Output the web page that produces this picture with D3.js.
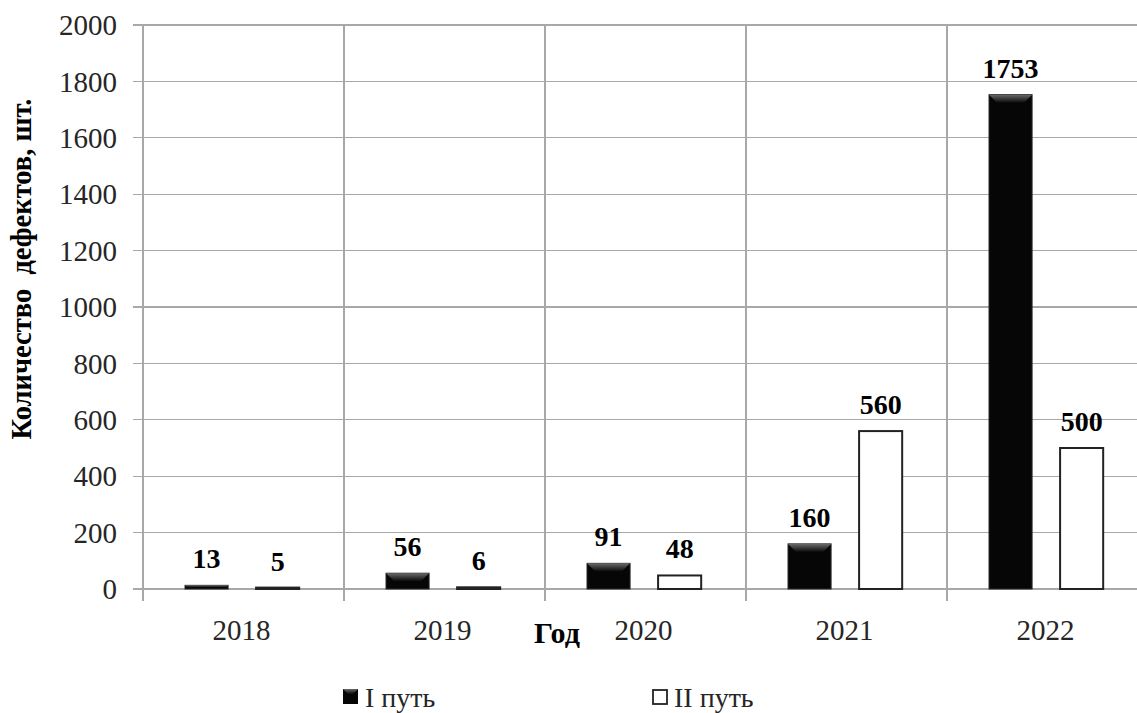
<!DOCTYPE html>
<html><head><meta charset="utf-8">
<script src="https://cdn.jsdelivr.net/npm/d3@7/dist/d3.min.js"></script>
<style>body{margin:0;background:#fff;}svg{display:block;}</style>
</head><body>
<svg id="c" width="1137" height="713"></svg>
<script>
const years = ["2018","2019","2020","2021","2022"];
const seriesNames = ["I путь","II путь"];
const path1 = [13,56,91,160,1753];
const path2 = [5,6,48,560,500];
const yTicks = [0,200,400,600,800,1000,1200,1400,1600,1800,2000];
const yTitle = "Количество  дефектов, шт.";
const xTitle = "Год";

const FF = "'Liberation Serif','Times New Roman',Times,'DejaVu Serif',serif";
const svg = d3.select("#c");
const L = 143, T = 25, B = 589, W = 201;
const x = d3.scaleBand().domain(years).range([L, L + W*years.length]).padding(0);
const x1 = d3.scaleBand().domain([0,1]).range([x.bandwidth()*0.209, x.bandwidth()*0.777]).paddingInner(0.394).paddingOuter(0);
const y = d3.scaleLinear().domain([0,2000]).range([B, T]);

const defs = svg.append("defs");
const g1 = defs.append("linearGradient").attr("id","bev").attr("x1",0).attr("y1",0).attr("x2",0).attr("y2",1);
g1.append("stop").attr("offset","0%").attr("stop-color","#6a6a6a");
g1.append("stop").attr("offset","100%").attr("stop-color","#0a0a0a");

const grid = "#a8a8a8";
svg.append("g").selectAll("line").data(yTicks).join("line")
  .attr("x1", L-10).attr("x2", 1137).attr("y1", d=>y(d)).attr("y2", d=>y(d))
  .attr("stroke", grid).attr("stroke-width", 1.2).attr("shape-rendering","crispEdges");
const bounds = years.map(d=>x(d));
svg.append("g").selectAll("line").data(bounds).join("line")
  .attr("x1", d=>d).attr("x2", d=>d).attr("y1", T).attr("y2", B+12)
  .attr("stroke", grid).attr("stroke-width", 1.2).attr("shape-rendering","crispEdges");

svg.append("g").selectAll("text").data(yTicks).join("text")
  .attr("x", 117).attr("y", d=>y(d)).attr("dy","0.35em").attr("text-anchor","end")
  .attr("font-family",FF).attr("font-size", 29).attr("fill","#262626")
  .text(d=>d);

svg.append("g").selectAll("text").data(years).join("text")
  .attr("x", d=>x(d)+x.bandwidth()/2 - 2).attr("y", 630).attr("dy","0.35em").attr("text-anchor","middle")
  .attr("font-family",FF).attr("font-size", 29).attr("fill","#262626")
  .text(d=>d);

const data = [];
years.forEach((yr,i)=>{
  data.push({yr, s:0, v:path1[i]});
  data.push({yr, s:1, v:path2[i]});
});
const bw = x1.bandwidth();
const bars = svg.append("g");
data.forEach(d=>{
  const bx = x(d.yr) + x1(d.s);
  const by = y(d.v);
  const h = B - by;
  if (d.s === 0) {
    bars.append("rect").attr("x", bx).attr("y", by).attr("width", bw).attr("height", h)
      .attr("fill", "#060606").attr("stroke","#2a2a2a").attr("stroke-width",1);
    const bh = Math.min(8, h/2);
    bars.append("path")
      .attr("d", `M${bx},${by}L${bx+bw},${by}L${bx+bw-bh},${by+bh}L${bx+bh},${by+bh}Z`)
      .attr("fill","url(#bev)");
  } else {
    bars.append("rect").attr("x", bx).attr("y", by).attr("width", bw).attr("height", Math.max(h,0.5))
      .attr("fill", "#ffffff").attr("stroke","#222").attr("stroke-width",2);
  }
  bars.append("text").attr("x", bx + bw/2).attr("y", by - 17)
    .attr("text-anchor","middle").attr("font-family",FF)
    .attr("font-weight","bold").attr("font-size", 28).attr("fill","#000").text(d.v);
});

svg.append("text").attr("transform", "translate(21,269) rotate(-90)")
  .attr("text-anchor","middle").attr("dy","0.35em")
  .attr("font-family",FF).attr("font-weight","bold").attr("font-size", 28.5)
  .attr("fill","#000").attr("xml:space","preserve").style("white-space","pre").text(yTitle);
svg.append("text").attr("x", 557).attr("y", 632).attr("dy","0.35em").attr("text-anchor","middle")
  .attr("font-family",FF).attr("font-weight","bold").attr("font-size", 30)
  .attr("fill","#000").text(xTitle);

const legX = [343, 652];
seriesNames.forEach((n,i)=>{
  const g = svg.append("g");
  if (i===0) {
    g.append("rect").attr("x", legX[i]).attr("y", 689).attr("width", 15).attr("height", 15).attr("fill","#060606");
    g.append("path").attr("d", `M${legX[i]},689L${legX[i]+15},689L${legX[i]+10},694L${legX[i]+5},694Z`).attr("fill","url(#bev)");
  } else {
    g.append("rect").attr("x", legX[i]+1).attr("y", 690).attr("width", 14).attr("height", 14)
      .attr("fill","#fff").attr("stroke","#222").attr("stroke-width",1.8);
  }
  g.append("text").attr("x", legX[i]+22).attr("y", 697).attr("dy","0.35em")
    .attr("font-family",FF).attr("font-size", 28).attr("fill","#262626").text(n);
});
</script>
</body></html>
